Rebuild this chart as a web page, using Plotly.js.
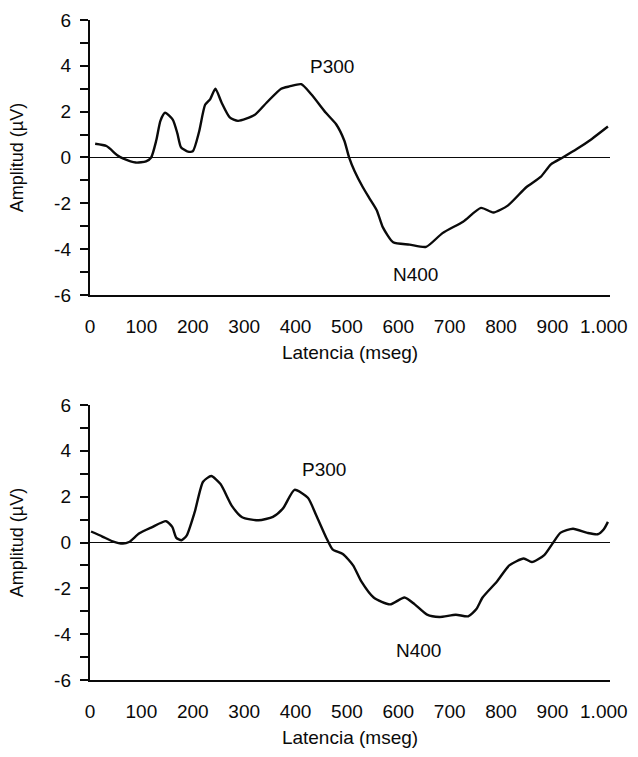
<!DOCTYPE html>
<html>
<head>
<meta charset="utf-8">
<script src="https://cdn.plot.ly/plotly-3.0.1.min.js"></script>
<style>html,body{margin:0;padding:0;background:#fff;}#chart{width:638px;height:757px;}</style>
</head>
<body>
<div id="chart"></div>
<script>
// Top panel: latency (ms) and amplitude (µV)
const latencia1 = [10, 32, 53, 65, 89, 109, 119, 129, 137, 146, 161, 170, 177, 189, 200, 212, 224, 234, 244, 256, 272, 288, 320, 344, 372, 388, 411, 431, 459, 479, 495, 504, 515, 531, 543, 558, 570, 590, 622, 654, 686, 726, 761, 785, 813, 849, 877, 897, 920, 948, 976, 1008];
const amplitud1 = [0.6, 0.5, 0.1, -0.05, -0.22, -0.17, 0.0, 0.75, 1.6, 1.95, 1.65, 1.05, 0.45, 0.27, 0.27, 1.1, 2.3, 2.55, 3.0, 2.4, 1.75, 1.6, 1.85, 2.4, 3.0, 3.1, 3.2, 2.75, 1.95, 1.45, 0.73, 0.02, -0.6, -1.3, -1.75, -2.3, -3.05, -3.7, -3.8, -3.9, -3.3, -2.8, -2.2, -2.4, -2.1, -1.3, -0.85, -0.3, 0.0, 0.38, 0.8, 1.35];

// Bottom panel
const latencia2 = [2, 24, 44, 64, 76, 96, 120, 148, 160, 168, 178, 188, 204, 220, 236, 254, 276, 296, 328, 356, 376, 398, 424, 440, 460, 472, 492, 512, 528, 552, 584, 612, 632, 656, 680, 712, 736, 752, 764, 792, 816, 844, 860, 884, 900, 916, 940, 968, 988, 1000, 1008];
const amplitud2 = [0.48, 0.26, 0.05, -0.05, 0.02, 0.4, 0.66, 0.93, 0.68, 0.2, 0.1, 0.3, 1.35, 2.65, 2.9, 2.55, 1.6, 1.1, 0.97, 1.12, 1.5, 2.3, 1.95, 1.2, 0.2, -0.3, -0.5, -1.0, -1.7, -2.4, -2.7, -2.4, -2.7, -3.15, -3.25, -3.15, -3.22, -2.9, -2.4, -1.7, -1.0, -0.7, -0.85, -0.55, -0.05, 0.43, 0.6, 0.42, 0.36, 0.58, 0.9];

const xTickVals = [0, 100, 200, 300, 400, 500, 600, 700, 800, 900, 1000];
const xTickText = ['0', '100', '200', '300', '400', '500', '600', '700', '800', '900', '1.000'];
const yTickVals = [-6, -5, -4, -3, -2, -1, 0, 1, 2, 3, 4, 5, 6];
const yTickText = ['-6', '', '-4', '', '-2', '', '0', '', '2', '', '4', '', '6'];

const peakLabels = ['P300', 'N400'];
const peakX1 = [470, 633];
const peakY1 = [3.95, -5.1];
const peakX2 = [455, 640];
const peakY2 = [3.2, -4.7];

const FONT = 'Liberation Sans, Arial, sans-serif';
const INK = '#0a0a0a';

const traces = [
  {x: latencia1, y: amplitud1, type: 'scatter', mode: 'lines', line: {color: INK, width: 2.4, shape: 'spline', smoothing: 0.6}, xaxis: 'x', yaxis: 'y', hoverinfo: 'skip'},
  {x: latencia2, y: amplitud2, type: 'scatter', mode: 'lines', line: {color: INK, width: 2.4, shape: 'spline', smoothing: 0.6}, xaxis: 'x2', yaxis: 'y2', hoverinfo: 'skip'}
];

function xAxis(anchor) {
  return {
    domain: [0.1411, 0.9561], range: [0, 1012], anchor: anchor,
    tickmode: 'array', tickvals: xTickVals, ticktext: xTickText,
    ticks: '', showline: true, linewidth: 2.2, linecolor: INK,
    showgrid: false, zeroline: false, ticklabelstandoff: 13,
    tickfont: {family: FONT, size: 19, color: INK},
    title: {text: 'Latencia (mseg)', standoff: 10, font: {family: FONT, size: 19, color: INK}},
    automargin: false, fixedrange: true
  };
}
function yAxis(anchor, domain) {
  return {
    domain: domain, range: [-6, 6], anchor: anchor,
    tickmode: 'array', tickvals: yTickVals, ticktext: yTickText,
    ticks: 'outside', ticklen: 8, tickwidth: 2, tickcolor: INK,
    showline: true, linewidth: 2.2, linecolor: INK,
    showgrid: false, zeroline: true, zerolinewidth: 1.8, zerolinecolor: INK,
    ticklabelstandoff: 5,
    tickfont: {family: FONT, size: 19, color: INK},
    title: {text: 'Amplitud (µV)', standoff: 26, font: {family: FONT, size: 18, color: INK}},
    automargin: false, fixedrange: true
  };
}

const annotations = [];
peakLabels.forEach((t, i) => {
  annotations.push({x: peakX1[i], y: peakY1[i], xref: 'x', yref: 'y', text: t, showarrow: false, font: {family: FONT, size: 19, color: INK}});
  annotations.push({x: peakX2[i], y: peakY2[i], xref: 'x2', yref: 'y2', text: t, showarrow: false, font: {family: FONT, size: 19, color: INK}});
});

const layout = {
  width: 638, height: 757,
  margin: {l: 0, r: 0, t: 0, b: 0},
  paper_bgcolor: '#fff', plot_bgcolor: '#fff',
  showlegend: false,
  xaxis: xAxis('y'),
  yaxis: yAxis('x', [0.6103, 0.9736]),
  xaxis2: xAxis('y2'),
  yaxis2: yAxis('x2', [0.1017, 0.4650]),
  annotations: annotations
};

Plotly.newPlot('chart', traces, layout, {displayModeBar: false, staticPlot: true});
</script>
</body>
</html>
